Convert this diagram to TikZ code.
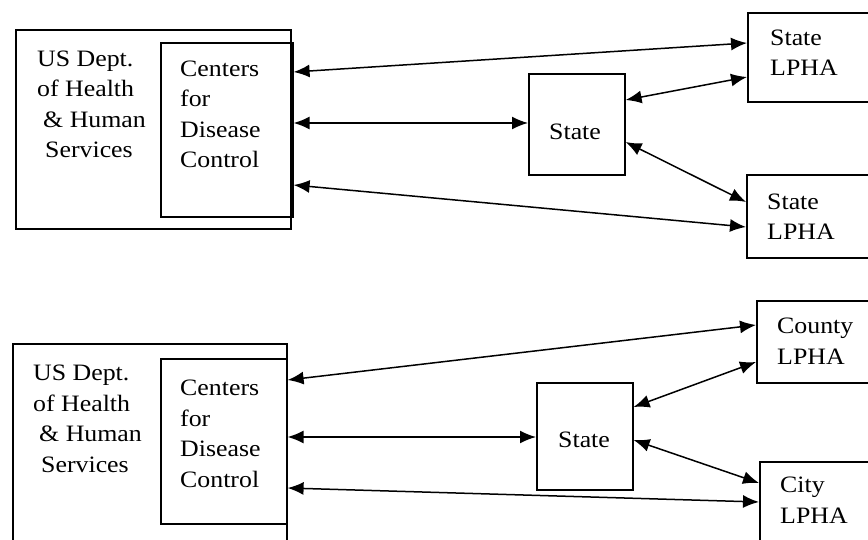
\documentclass[tikz,border=0pt]{standalone}
\usepackage{fontspec}
\setmainfont[FakeStretch=1.1]{Liberation Serif}
\usetikzlibrary{arrows.meta,calc}
\begin{document}
\begin{tikzpicture}[x=1pt, y=-1pt,
    box/.style={draw, line width=1.6pt, inner sep=0pt, anchor=north west},
    txt/.style={anchor=base west, align=left, inner sep=0pt,
      font=\fontsize{23.5}{30.5}\selectfont},
    link/.style={{Latex[length=16pt,width=13pt]}-{Latex[length=16pt,width=13pt]},
      line width=1.5pt}]
  \useasboundingbox (0,0) rectangle (868,540);
  \clip (0,0) rectangle (868,540);
  %
  % upper chart
  \node[box, minimum width=275pt, minimum height=199pt] (hhsA) at (15,29) {};
  \node[box, minimum width=132pt, minimum height=174pt] (cdcA) at (160,42) {};
  \node[box, minimum width=96pt, minimum height=101pt] (stA) at (528,73) {};
  \node[box, minimum width=140pt, minimum height=89pt] (lphaA) at (747,12) {};
  \node[box, minimum width=140pt, minimum height=83pt] (lphaB) at (746,174) {};
  %
  \node[txt] (hhsAtxt) at (37,158) {US Dept.\\of Health\\\hspace*{6pt}\& Human\\\hspace*{8pt}Services};
  \node[txt] (cdcAtxt) at (180,168) {Centers\\for\\Disease\\Control};
  \node[txt] (stAtxt) at (549,140) {State};
  \node[txt] (lphaAtxt) at (770,76) {State\\LPHA};
  \node[txt] (lphaBtxt) at (767,240) {State\\LPHA};
  %
  \draw[link] ($(cdcA.north east)+(0,30)$) -- ($(lphaA.north west)+(0,31)$);
  \draw[link] ($(cdcA.north east)+(0,81)$) -- ($(stA.north west)+(0,50)$);
  \draw[link] ($(cdcA.north east)+(0,143)$) -- ($(lphaB.north west)+(0,53)$);
  \draw[link] ($(stA.north east)+(0,27)$) -- ($(lphaA.north west)+(0,65)$);
  \draw[link] ($(stA.north east)+(0,69)$) -- ($(lphaB.north west)+(0,28)$);
  %
  % lower chart
  \node[box, minimum width=274pt, minimum height=230pt] (hhsB) at (12,343) {};
  \node[box, minimum width=126pt, minimum height=165pt] (cdcB) at (160,358) {};
  \node[box, minimum width=96pt, minimum height=107pt] (stB) at (536,382) {};
  \node[box, minimum width=140pt, minimum height=82pt] (lphaC) at (756,300) {};
  \node[box, minimum width=140pt, minimum height=100pt] (lphaD) at (759,461) {};
  %
  \node[txt] (hhsBtxt) at (33,472) {US Dept.\\of Health\\\hspace*{6pt}\& Human\\\hspace*{8pt}Services};
  \node[txt] (cdcBtxt) at (180,487) {Centers\\for\\Disease\\Control};
  \node[txt] (stBtxt) at (558,447) {State};
  \node[txt] (lphaCtxt) at (777,364) {County\\LPHA};
  \node[txt] (lphaDtxt) at (780,523) {City\\LPHA};
  %
  \draw[link] ($(cdcB.north east)+(0,22)$) -- ($(lphaC.north west)+(0,25)$);
  \draw[link] ($(cdcB.north east)+(0,79)$) -- ($(stB.north west)+(0,55)$);
  \draw[link] ($(cdcB.north east)+(0,130)$) -- ($(lphaD.north west)+(0,41)$);
  \draw[link] ($(stB.north east)+(0,25)$) -- ($(lphaC.north west)+(0,62)$);
  \draw[link] ($(stB.north east)+(0,58)$) -- ($(lphaD.north west)+(0,22)$);
\end{tikzpicture}
\end{document}
